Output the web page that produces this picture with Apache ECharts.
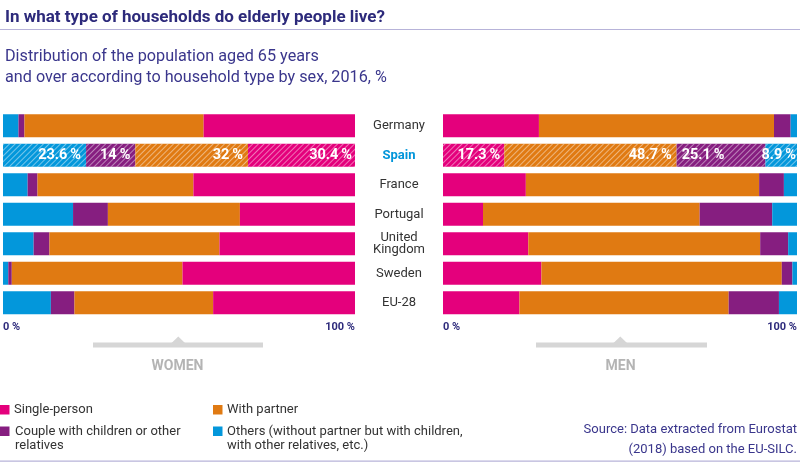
<!DOCTYPE html>
<html>
<head>
<meta charset="utf-8">
<script src="https://cdn.jsdelivr.net/npm/echarts@6/dist/echarts.min.js"></script>
<style>
html,body{margin:0;padding:0;background:#fff;}
#c{width:800px;height:463px;}
</style>
</head>
<body>
<div id="c"></div>
<script>
const categories = ['Germany','Spain','France','Portugal','United Kingdom','Sweden','EU-28'];
const womenSingle  = [43.0, 30.4, 45.9, 32.7, 38.5, 49.0, 40.3];
const womenPartner = [50.9, 32.0, 44.3, 37.5, 48.3, 48.5, 39.4];
const womenCouple  = [1.7, 14.0, 2.8, 9.9, 4.5, 1.0, 6.7];
const womenOthers  = [4.4, 23.6, 7.0, 19.9, 8.7, 1.5, 13.6];
const menSingle    = [27.1, 17.3, 23.4, 11.3, 24.1, 27.8, 21.6];
const menPartner   = [66.4, 48.7, 65.9, 61.2, 65.5, 67.9, 59.1];
const menCouple    = [4.7, 25.1, 7.0, 20.5, 7.9, 3.0, 14.2];
const menOthers    = [1.8, 8.9, 3.7, 7.0, 2.5, 1.3, 5.1];
const xTicks = [0, 100];
const seriesNames = ['Single-person','With partner','Couple with children or other relatives','Others (without partner but with children, with other relatives, etc.)'];

const COL = {single:'#E4007C', partner:'#E07A12', couple:'#861E80', others:'#0397DB'};
const NAVY = '#2D2A7B';
const FONT = 'Roboto, "Liberation Sans", sans-serif';
const hi = categories.indexOf('Spain');

const decal = {symbol:'rect', symbolSize:1, dashArrayX:[1,0], dashArrayY:[1,2.2], rotation:-Math.PI/4, color:'rgba(255,255,255,0.45)'};

function build(arr, pos, dist){
  return arr.map((v,i)=> i===hi ? {
    value:v,
    itemStyle:{decal:decal},
    label:{show:true, position:pos, distance:dist, color:'#fff', fontWeight:'bold', fontSize:14.5, fontFamily:FONT,
      formatter:(p)=> (Math.round(p.value*10)/10) + '\u2009%'}
  } : v);
}
function bar(name, arr, color, stack, axisIdx, pos, dist){
  return {
    name:name, type:'bar', stack:stack, xAxisIndex:axisIdx, yAxisIndex:axisIdx,
    barWidth:23, itemStyle:{color:color}, emphasis:{disabled:true},
    label:{show:false},
    data: build(arr, pos, dist)
  };
}

const chart = echarts.init(document.getElementById('c'), null, {renderer:'canvas'});
const xAxisCommon = {
  type:'value', min:0, max:100, interval:100,
  splitLine:{show:false}, axisLine:{show:false}, axisTick:{show:false},
  axisLabel:{formatter:'{value} %', color:NAVY, fontWeight:'bold', fontSize:11, fontFamily:FONT, margin:4,
    showMinLabel:true, showMaxLabel:true, alignMinLabel:'left', alignMaxLabel:'right'}
};

chart.setOption({
  animation:false,
  textStyle:{fontFamily:FONT},
  title:[
    {text:'In what type of households do elderly people live?', left:0, top:4,
     textStyle:{fontSize:17, fontWeight:'bold', color:NAVY, fontFamily:FONT}},
    {text:'Distribution of the population aged 65 years\nand over according to household type by sex, 2016, %', left:0, top:41,
     textStyle:{fontSize:16.2, fontWeight:'normal', color:'#3A368C', lineHeight:21, fontFamily:FONT}}
  ],
  grid:[
    {left:0, right:445, top:111, height:206.5},
    {left:443, right:1, top:111, height:206.5}
  ],
  xAxis:[
    Object.assign({gridIndex:0}, xAxisCommon),
    Object.assign({gridIndex:1}, xAxisCommon)
  ],
  yAxis:[
    {type:'category', gridIndex:0, data:categories, inverse:true, position:'right',
     axisLine:{show:false}, axisTick:{show:false},
     axisLabel:{margin:44, align:'center', color:'#333', fontSize:13, lineHeight:12, fontFamily:FONT,
       formatter:(v)=> v==='Spain' ? '{sp|'+v+'}' : v.replace('United Kingdom','United\nKingdom'),
       rich:{sp:{color:'#0095DA', fontWeight:'bold', fontSize:13, fontFamily:FONT}}}},
    {type:'category', gridIndex:1, data:categories, inverse:true,
     axisLine:{show:false}, axisTick:{show:false}, axisLabel:{show:false}}
  ],
  series:[
    bar(seriesNames[3], womenOthers, COL.others, 'w', 0, 'insideRight', 5),
    bar(seriesNames[2], womenCouple, COL.couple, 'w', 0, 'insideRight', 5),
    bar(seriesNames[1], womenPartner, COL.partner, 'w', 0, 'insideRight', 5),
    bar(seriesNames[0], womenSingle, COL.single, 'w', 0, 'insideRight', 3),
    bar(seriesNames[0], menSingle, COL.single, 'm', 1, 'insideRight', 4),
    bar(seriesNames[1], menPartner, COL.partner, 'm', 1, 'insideRight', 5),
    bar(seriesNames[2], menCouple, COL.couple, 'm', 1, 'insideLeft', 5),
    bar(seriesNames[3], menOthers, COL.others, 'm', 1, 'insideRight', 1)
  ],
  graphic:[
    {type:'rect', shape:{x:0, y:29, width:800, height:1}, style:{fill:'#B7B3D9'}, silent:true},
    {type:'rect', shape:{x:0, y:460.5, width:800, height:1.2}, style:{fill:'#B7B3D9'}, silent:true},
    // WOMEN bracket
    {type:'rect', shape:{x:93, y:342.5, width:170, height:5}, style:{fill:'#D6D6D6'}, silent:true},
    {type:'polygon', shape:{points:[[171.5,343],[178.3,336.5],[185,343]]}, style:{fill:'#D6D6D6'}, silent:true},
    {type:'text', x:177.5, y:366.5, style:{text:'WOMEN', fill:'#B4B4B4', font:'bold 14px '+FONT, textAlign:'center', textVerticalAlign:'middle'}, silent:true},
    // MEN bracket
    {type:'rect', shape:{x:536, y:342.5, width:171, height:5}, style:{fill:'#D6D6D6'}, silent:true},
    {type:'polygon', shape:{points:[[613.5,343],[620.3,336.5],[627,343]]}, style:{fill:'#D6D6D6'}, silent:true},
    {type:'text', x:620.5, y:366.5, style:{text:'MEN', fill:'#B4B4B4', font:'bold 14px '+FONT, textAlign:'center', textVerticalAlign:'middle'}, silent:true},
    // legend
    {type:'rect', shape:{x:0, y:405, width:9.5, height:9.5}, style:{fill:COL.single}, silent:true},
    {type:'text', x:14, y:410, style:{text:'Single-person', fill:'#333', font:'13px '+FONT, textVerticalAlign:'middle'}, silent:true},
    {type:'rect', shape:{x:213, y:405, width:9.5, height:9.5}, style:{fill:COL.partner}, silent:true},
    {type:'text', x:227, y:410, style:{text:'With partner', fill:'#333', font:'13px '+FONT, textVerticalAlign:'middle'}, silent:true},
    {type:'rect', shape:{x:0, y:426.5, width:9.5, height:9.5}, style:{fill:COL.couple}, silent:true},
    {type:'text', x:15, y:425, style:{text:'Couple with children or other\nrelatives', fill:'#333', font:'13px '+FONT, lineHeight:14, textVerticalAlign:'top'}, silent:true},
    {type:'rect', shape:{x:213, y:426.5, width:9.5, height:9.5}, style:{fill:COL.others}, silent:true},
    {type:'text', x:227, y:425, style:{text:'Others (without partner but with children,\nwith other relatives, etc.)', fill:'#333', font:'13px '+FONT, lineHeight:14, textVerticalAlign:'top'}, silent:true},
    // source
    {type:'text', x:797, y:420, style:{text:'Source: Data extracted from Eurostat\n(2018) based on the EU-SILC.', fill:'#3A368C', font:'13px '+FONT, lineHeight:20, textAlign:'right', textVerticalAlign:'top'}, silent:true}
  ]
});
</script>
</body>
</html>
